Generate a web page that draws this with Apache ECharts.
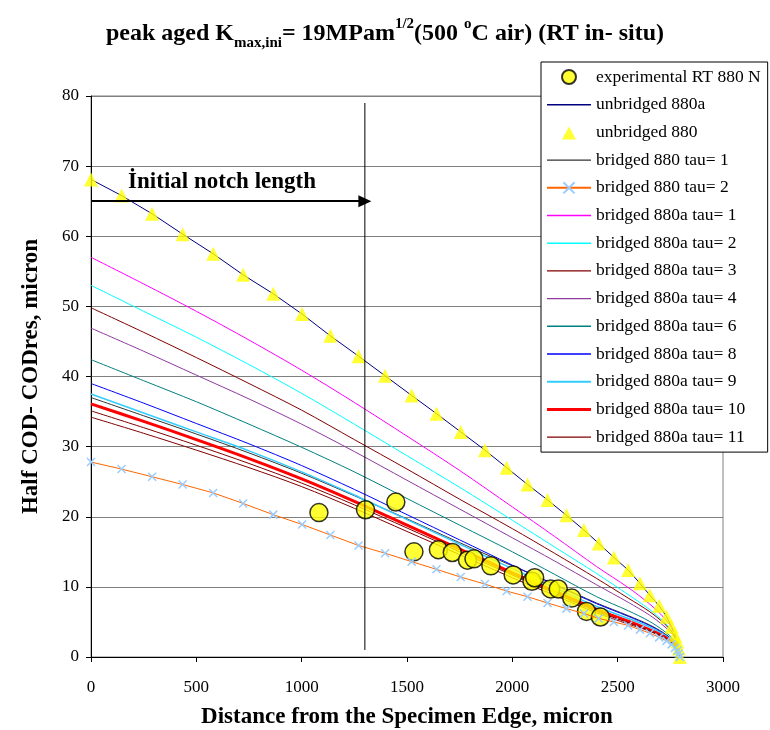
<!DOCTYPE html>
<html>
<head>
<meta charset="utf-8">
<script src="https://cdn.jsdelivr.net/npm/echarts@6/dist/echarts.min.js"></script>
<style>
html, body { margin: 0; padding: 0; background: #fff; }
#chart { width: 770px; height: 730px; }
</style>
</head>
<body>
<div id="chart"></div>
<script>
// experimental points (RT in-situ)
var expX = [1082, 1303, 1447, 1533, 1649, 1715, 1787, 1818, 1898, 2004, 2093, 2106, 2182, 2218, 2282, 2352, 2418];
var expY = [20.6, 21.0, 22.1, 15.0, 15.3, 14.9, 13.8, 14.0, 13.0, 11.7, 10.8, 11.3, 9.7, 9.7, 8.4, 6.5, 5.7];

// unbridged 880 (triangles) - the 880a line runs through the same points
var unbX = [0, 145, 290, 435, 580, 722, 865, 1002, 1136, 1270, 1396, 1522, 1640, 1755, 1870, 1973,
  2072, 2167, 2257, 2340, 2410, 2482, 2550, 2606, 2653, 2697, 2732, 2756, 2772, 2783, 2790, 2795];
var unbY = [68.1, 65.8, 63.2, 60.3, 57.5, 54.5, 51.8, 48.9, 45.8, 42.9, 40.1, 37.3, 34.7, 32.1, 29.5, 27.0,
  24.6, 22.4, 20.2, 18.1, 16.2, 14.2, 12.4, 10.5, 8.8, 7.3, 5.75, 4.3, 3.1, 2.2, 1.2, 0];

// bridged 880 tau=2 (orange line, x markers), same x positions as the triangles
var b880t2Y = [27.8, 26.8, 25.7, 24.6, 23.4, 21.9, 20.3, 18.9, 17.4, 15.9, 14.8, 13.6, 12.5, 11.4, 10.4, 9.4,
  8.6, 7.7, 6.9, 6.2, 5.5, 5.0, 4.5, 3.9, 3.4, 2.8, 2.3, 1.8, 1.3, 0.9, 0.5, 0];

// x grid for the other bridged curves
var curveX = [0, 250, 500, 750, 1000, 1250, 1500, 1750, 2000, 2200, 2400, 2550, 2650, 2720, 2770, 2795];
var b880t1Y   = [37.0, 34.4, 31.8, 29.1, 26.2, 23.0, 19.7, 16.3, 13.0, 10.4, 7.7, 5.9, 4.6, 3.4, 2.1, 0];
var b880at1Y  = [57.0, 53.2, 49.3, 45.2, 40.9, 36.3, 31.5, 26.6, 21.4, 17.2, 12.9, 9.9, 7.6, 5.6, 3.5, 0];
var b880at2Y  = [53.0, 49.3, 45.6, 41.7, 37.6, 33.2, 28.7, 24.2, 19.5, 15.7, 11.9, 8.9, 6.8, 5.0, 3.1, 0];
var b880at3Y  = [49.8, 46.3, 42.7, 39.0, 35.2, 31.0, 26.8, 22.5, 18.3, 14.8, 11.2, 8.4, 6.5, 4.8, 3.0, 0];
var b880at4Y  = [46.9, 43.6, 40.2, 36.8, 33.2, 29.3, 25.2, 21.1, 17.0, 13.7, 10.3, 7.8, 6.0, 4.4, 2.8, 0];
var b880at6Y  = [42.4, 39.4, 36.4, 33.2, 29.9, 26.4, 22.6, 18.8, 15.0, 11.8, 8.6, 6.6, 5.1, 3.7, 2.3, 0];
var b880at8Y  = [39.0, 36.2, 33.3, 30.4, 27.3, 23.9, 20.3, 16.7, 13.1, 10.3, 7.6, 5.8, 4.5, 3.3, 2.1, 0];
var b880at9Y  = [37.5, 34.8, 32.1, 29.4, 26.4, 23.1, 19.6, 16.1, 12.6, 9.9, 7.2, 5.5, 4.3, 3.2, 2.0, 0];
var b880at10Y = [36.1, 33.6, 31.0, 28.3, 25.4, 22.2, 18.8, 15.4, 12.0, 9.4, 6.8, 5.1, 3.9, 2.9, 1.8, 0];
var b880at11Y = [35.1, 32.7, 30.2, 27.6, 24.8, 21.7, 18.4, 15.0, 11.7, 9.1, 6.5, 4.9, 3.8, 2.8, 1.7, 0];
// one more dark red curve drawn in the plot but not listed in the legend
var extraY    = [34.2, 31.9, 29.5, 27.0, 24.3, 21.2, 17.9, 14.6, 11.3, 8.8, 6.3, 4.7, 3.7, 2.7, 1.7, 0];

// initial notch marker
var notchX = 1300;
var notchArrowY = 65;

var serif = "'Liberation Serif', 'Times New Roman', serif";

function pairs(xs, ys) {
  return xs.map(function (x, i) { return [x, ys[i]]; });
}

function curve(name, color, ys, width) {
  return {
    name: name,
    type: "line",
    data: pairs(curveX, ys),
    smooth: 0.3,
    symbol: "none",
    z: 2,
    lineStyle: { color: color, width: width || 1 },
    itemStyle: { color: color }
  };
}

// legend icons: a 44x14 box (tiny corner dots keep the box) with a bar or a triangle inside
var box = "path://M0,0h0.01v0.01h-0.01z M44,14h0.01v0.01h-0.01z ";
function lineIcon(w) {
  return box + "M0," + (7 - w / 2) + "h44v" + w + "h-44z";
}
function lineEntry(name, w) {
  return { name: name, icon: lineIcon(w || 1.4), itemStyle: { borderWidth: 0 } };
}

var myChart = echarts.init(document.getElementById("chart"));

myChart.setOption({
  backgroundColor: "#fff",
  animation: false,
  title: {
    left: "center",
    top: 12,
    text: "{b|peak aged K}{sub|max,ini}{b|= 19MPam}{sup|1/2}{b|(500 }{sup|o}{b|C air) (RT in- situ)}",
    textStyle: {
      rich: {
        b: { fontFamily: serif, fontWeight: "bold", fontSize: 24, color: "#000", lineHeight: 34 },
        sub: { fontFamily: serif, fontWeight: "bold", fontSize: 15, color: "#000", lineHeight: 16, verticalAlign: "bottom" },
        sup: { fontFamily: serif, fontWeight: "bold", fontSize: 15, color: "#000", lineHeight: 18, verticalAlign: "top" }
      }
    }
  },
  legend: {
    orient: "vertical",
    left: 541,
    top: 62,
    padding: [6, 7, 6, 5],
    itemWidth: 44,
    itemHeight: 14,
    itemGap: 9.7,
    backgroundColor: "#fff",
    borderColor: "#000",
    borderWidth: 1,
    textStyle: { fontFamily: serif, fontSize: 17.5, color: "#000", lineHeight: 16 },
    data: [
      { name: "experimental RT 880 N", icon: "circle" },
      lineEntry("unbridged 880a"),
      { name: "unbridged 880", icon: box + "M15,14L22,1L29,14z", itemStyle: { borderWidth: 0 } },
      lineEntry("bridged 880 tau= 1"),
      "bridged 880 tau= 2",
      lineEntry("bridged 880a tau= 1"),
      lineEntry("bridged 880a tau= 2"),
      lineEntry("bridged 880a tau= 3"),
      lineEntry("bridged 880a tau= 4"),
      lineEntry("bridged 880a tau= 6"),
      lineEntry("bridged 880a tau= 8"),
      lineEntry("bridged 880a tau= 9", 2),
      lineEntry("bridged 880a tau= 10", 3),
      lineEntry("bridged 880a tau= 11")
    ]
  },
  grid: {
    left: 91,
    right: 47,
    top: 96,
    bottom: 73,
    outerBoundsMode: "none",
    show: true,
    borderColor: "#808080",
    borderWidth: 1
  },
  xAxis: {
    type: "value",
    min: 0,
    max: 3000,
    interval: 500,
    name: "Distance from the Specimen Edge, micron",
    nameLocation: "middle",
    nameGap: 49,
    nameTextStyle: { fontFamily: serif, fontWeight: "bold", fontSize: 23, color: "#000" },
    axisLine: { lineStyle: { color: "#000", width: 1 } },
    axisTick: { length: 5, lineStyle: { color: "#000" } },
    axisLabel: {
      fontFamily: serif, fontSize: 17, color: "#000", margin: 22,
      formatter: function (v) { return String(v); }
    },
    splitLine: { show: false }
  },
  yAxis: {
    type: "value",
    min: 0,
    max: 80,
    interval: 10,
    name: "Half COD- CODres, micron",
    nameLocation: "middle",
    nameGap: 48,
    nameTextStyle: { fontFamily: serif, fontWeight: "bold", fontSize: 23, color: "#000" },
    axisLine: { lineStyle: { color: "#000", width: 1 } },
    axisTick: { length: 5, lineStyle: { color: "#000" } },
    axisLabel: {
      fontFamily: serif, fontSize: 17, color: "#000", margin: 12,
      formatter: function (v) { return String(v); }
    },
    splitLine: { show: true, lineStyle: { color: "#808080", width: 1 } }
  },
  series: [
    {
      name: "experimental RT 880 N",
      type: "scatter",
      data: pairs(expX, expY),
      symbol: "circle",
      symbolSize: 18,
      z: 3,
      itemStyle: { color: "#FFFF00", borderColor: "#000", borderWidth: 1.5 }
    },
    {
      name: "unbridged 880a",
      type: "line",
      data: pairs(unbX, unbY),
      symbol: "none",
      z: 2,
      lineStyle: { color: "#000080", width: 1 },
      itemStyle: { color: "#000080" }
    },
    {
      name: "unbridged 880",
      type: "scatter",
      data: pairs(unbX, unbY),
      symbol: "triangle",
      symbolSize: 14,
      z: 3,
      itemStyle: { color: "#FFFF00" }
    },
    curve("bridged 880 tau= 1", "#333333", b880t1Y),
    {
      name: "bridged 880 tau= 2",
      type: "line",
      data: pairs(unbX, b880t2Y),
      symbol: "path://M0,0L10,10M10,0L0,10",
      symbolSize: 8,
      z: 4,
      lineStyle: { color: "#FF6600", width: 1 },
      itemStyle: { color: "#99CCFF", borderColor: "#99CCFF", borderWidth: 1.5 }
    },
    curve("bridged 880a tau= 1", "#FF00FF", b880at1Y),
    curve("bridged 880a tau= 2", "#00FFFF", b880at2Y),
    curve("bridged 880a tau= 3", "#800000", b880at3Y),
    curve("bridged 880a tau= 4", "#8E3A9E", b880at4Y),
    curve("bridged 880a tau= 6", "#008080", b880at6Y),
    curve("bridged 880a tau= 8", "#0000FF", b880at8Y),
    curve("bridged 880a tau= 9", "#33CCFF", b880at9Y, 1.5),
    curve("bridged 880a tau= 10", "#FF0000", b880at10Y, 3),
    curve("bridged 880a tau= 11", "#800000", b880at11Y),
    curve("extra", "#800000", extraY),
    {
      // initial notch line, arrow and caption
      name: "notch",
      type: "line",
      data: [[notchX, 79], [notchX, 1]],
      symbol: "none",
      z: 5,
      lineStyle: { color: "#000", width: 1 },
      markLine: {
        silent: true,
        symbol: ["none", "triangle"],
        symbolSize: [12, 13],
        label: { show: false },
        lineStyle: { color: "#000", width: 2, type: "solid" },
        data: [[{ coord: [0, notchArrowY] }, { coord: [notchX, notchArrowY] }]]
      },
      markPoint: {
        silent: true,
        symbol: "rect",
        symbolSize: 0,
        label: {
          show: true,
          position: "inside",
          formatter: "İnitial notch length",
          fontFamily: serif,
          fontWeight: "bold",
          fontSize: 23,
          color: "#000"
        },
        data: [{ coord: [622, 67.7] }]
      }
    }
  ]
});
</script>
</body>
</html>
